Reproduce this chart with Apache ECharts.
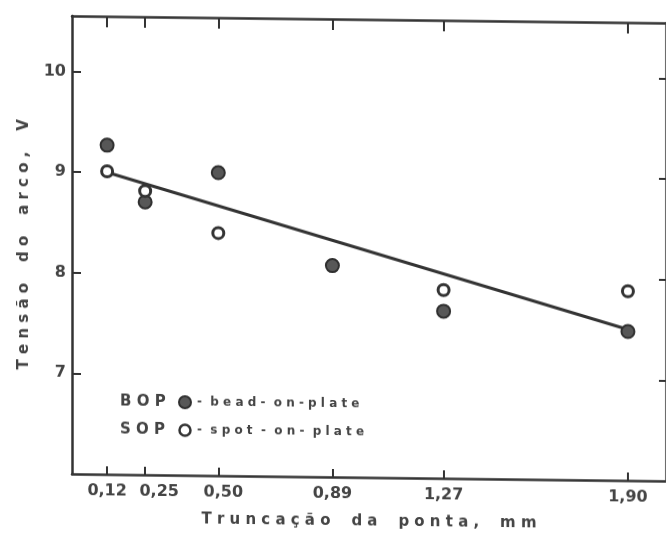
<!DOCTYPE html>
<html>
<head>
<meta charset="utf-8">
<script src="https://cdn.jsdelivr.net/npm/echarts@6/dist/echarts.min.js"></script>
<style>
  html, body { margin: 0; padding: 0; background: #fff; overflow: hidden; }
  #chart { width: 666px; height: 535px; transform: skewY(0.68deg); transform-origin: 333px 267px; }
</style>
</head>
<body>
<div id="chart"></div>
<script>
// Tip truncation (mm) tick positions and arc voltage (V) tick positions
const truncTicks = [0.12, 0.25, 0.50, 0.89, 1.27, 1.90];
const voltTicks = [7, 8, 9, 10];

// BOP: bead-on-plate (filled markers)
const bopTrunc = [0.12, 0.25, 0.50, 0.89, 1.27, 1.90];
const bopVolt = [9.27, 8.71, 9.01, 8.10, 7.66, 7.48];

// SOP: spot-on-plate (open markers)
const sopTrunc = [0.12, 0.25, 0.50, 1.27, 1.90];
const sopVolt = [9.01, 8.82, 8.41, 7.87, 7.88];

// Fitted trend line end points
const fitTrunc = [0.12, 1.90];
const fitVolt = [9.0, 7.5];

const ink = '#333';
const textInk = '#444';
const FONT = 'DejaVu Sans';

// Spread lettering out, like stencil lettering on a drafted graph
function spaced(s, g, G) {
  return s.split(' ').map(w => Array.from(w).join(' '.repeat(g))).join(' '.repeat(G));
}
const pairs = (xs, ys) => xs.map((x, i) => [x, ys[i]]);

// Crowded labels near the origin are nudged right so they don't touch
const labelNudge = { '0,25': 28, '0,50': 10 };

const chart = echarts.init(document.getElementById('chart'), null, { renderer: 'canvas' });

const axisLineStyle = { color: ink, width: 2.5 };
const tickStyle = { color: ink, width: 2 };
const tickFont = { fontSize: 16, fontWeight: 'bold', color: textInk, fontFamily: FONT };

chart.setOption({
  backgroundColor: '#fff',
  animation: false,
  grid: { left: 72, top: 19, width: 597, height: 458, containLabel: false },
  xAxis: [
    {
      type: 'value', position: 'bottom', min: 0, max: 2.03,
      name: spaced('Truncação da ponta, mm', 1, 4),
      nameLocation: 'middle', nameGap: 37,
      nameTextStyle: { fontSize: 15, fontWeight: 'bold', color: textInk, fontFamily: FONT },
      axisLine: { show: true, onZero: false, lineStyle: axisLineStyle },
      axisTick: { show: true, inside: true, length: 8, customValues: truncTicks, lineStyle: tickStyle },
      axisLabel: Object.assign({
        customValues: truncTicks,
        margin: 9,
        formatter: v => {
          const t = v.toFixed(2).replace('.', ',');
          return labelNudge[t] ? '{n' + labelNudge[t] + '|' + t + '}' : t;
        },
        rich: {
          n28: Object.assign({ padding: [0, 0, 0, 28] }, tickFont),
          n10: Object.assign({ padding: [0, 0, 0, 10] }, tickFont)
        }
      }, tickFont),
      splitLine: { show: false }
    },
    {
      type: 'value', position: 'top', min: 0, max: 2.03,
      axisLine: { show: true, onZero: false, lineStyle: axisLineStyle },
      axisTick: { show: true, inside: true, length: 11, customValues: truncTicks, lineStyle: tickStyle },
      axisLabel: { show: false },
      splitLine: { show: false }
    }
  ],
  yAxis: [
    {
      type: 'value', position: 'left', min: 6, max: 10.55, interval: 1,
      name: spaced('Tensão do arco, V', 1, 4),
      nameLocation: 'middle', nameGap: 40, nameRotate: 90,
      nameTextStyle: { fontSize: 15, fontWeight: 'bold', color: textInk, fontFamily: FONT },
      axisLine: { show: true, onZero: false, lineStyle: axisLineStyle },
      axisTick: { show: true, inside: true, length: 9, customValues: voltTicks, lineStyle: tickStyle },
      axisLabel: Object.assign({ customValues: voltTicks, margin: 6 }, tickFont),
      splitLine: { show: false }
    },
    {
      type: 'value', position: 'right', min: 6, max: 10.55, interval: 1,
      axisLine: { show: true, onZero: false, lineStyle: axisLineStyle },
      axisTick: { show: true, inside: true, length: 7, customValues: voltTicks, lineStyle: tickStyle },
      axisLabel: { show: false },
      splitLine: { show: false }
    }
  ],
  series: [
    {
      name: 'ajuste', type: 'line', data: pairs(fitTrunc, fitVolt),
      symbol: 'none', z: 2,
      lineStyle: { color: ink, width: 3 }
    },
    {
      name: 'BOP', type: 'scatter', data: pairs(bopTrunc, bopVolt),
      symbol: 'circle', symbolSize: 13, z: 3,
      itemStyle: { color: '#575757', borderColor: '#2f2f2f', borderWidth: 2, opacity: 1 }
    },
    {
      name: 'SOP', type: 'scatter', data: pairs(sopTrunc, sopVolt),
      symbol: 'circle', symbolSize: 11, z: 4,
      itemStyle: { color: '#fff', borderColor: '#333', borderWidth: 3, opacity: 1 }
    }
  ],
  graphic: [
    { type: 'text', x: 120, y: 404, style: { text: 'B O P', fontSize: 15, fontWeight: 'bold', fontFamily: FONT, fill: textInk, verticalAlign: 'middle' } },
    { type: 'circle', shape: { cx: 185, cy: 404, r: 6 }, style: { fill: '#575757', stroke: '#2f2f2f', lineWidth: 2 } },
    { type: 'text', x: 197, y: 404, style: { text: spaced('- bead- on-plate', 1, 2), fontSize: 12, fontWeight: 'bold', fontFamily: FONT, fill: textInk, verticalAlign: 'middle' } },
    { type: 'text', x: 120, y: 432, style: { text: 'S O P', fontSize: 15, fontWeight: 'bold', fontFamily: FONT, fill: textInk, verticalAlign: 'middle' } },
    { type: 'circle', shape: { cx: 185, cy: 432, r: 5.5 }, style: { fill: '#fff', stroke: '#333', lineWidth: 2.5 } },
    { type: 'text', x: 197, y: 432, style: { text: spaced('- spot - on- plate', 1, 2), fontSize: 12, fontWeight: 'bold', fontFamily: FONT, fill: textInk, verticalAlign: 'middle' } }
  ]
});
</script>
</body>
</html>
